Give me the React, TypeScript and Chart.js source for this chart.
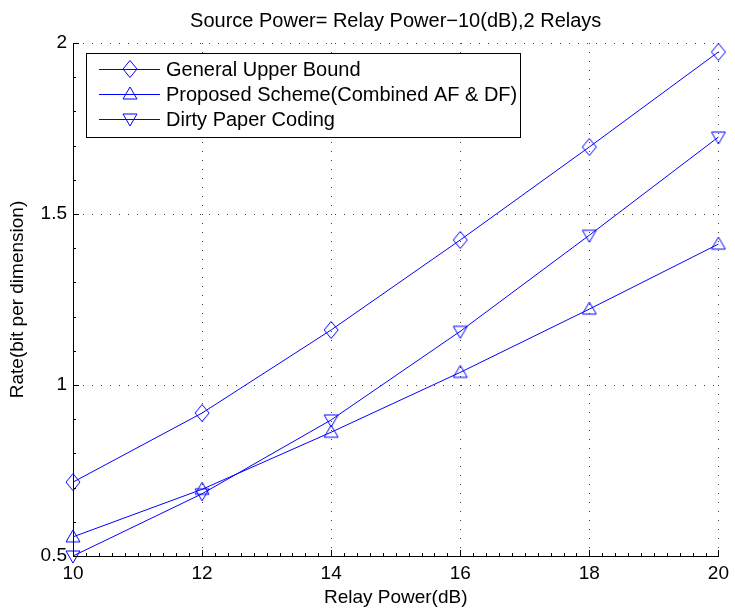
import React, { useEffect, useRef } from "react";
import { Chart, registerables } from "chart.js";

Chart.register(...registerables);

const relayPower = [10, 12, 14, 16, 18, 20];
const upperBound = [0.716, 0.918, 1.161, 1.424, 1.696, 1.974];
const proposed = [0.556, 0.695, 0.862, 1.037, 1.222, 1.412];
const dirtyPaper = [0.5, 0.682, 0.898, 1.157, 1.438, 1.725];
const seriesNames = [
  "General Upper Bound",
  "Proposed Scheme(Combined AF & DF)",
  "Dirty Paper Coding",
];
const xTickValues = [10, 12, 14, 16, 18, 20];
const yTickValues = [0.5, 1, 1.5, 2];
const titleText = "Source Power= Relay Power\u221210(dB),2 Relays";
const xLabel = "Relay Power(dB)";
const yLabel = "Rate(bit per dimension)";

const FONT = "'Liberation Sans', Arial, Helvetica, sans-serif";
const BLUE = "#0000ff";

function makeMarker(kind: "diamond" | "up" | "down"): HTMLCanvasElement {
  const c = document.createElement("canvas");
  const w = 18;
  const h = 20;
  c.width = w;
  c.height = h;
  const g = c.getContext("2d")!;
  g.strokeStyle = BLUE;
  g.lineWidth = 1;
  const cx = w / 2;
  const cy = h / 2;
  g.beginPath();
  if (kind === "diamond") {
    g.moveTo(cx, cy - 8.5);
    g.lineTo(cx + 7, cy);
    g.lineTo(cx, cy + 8.5);
    g.lineTo(cx - 7, cy);
  } else if (kind === "up") {
    g.moveTo(cx, cy - 7);
    g.lineTo(cx + 7, cy + 5);
    g.lineTo(cx - 7, cy + 5);
  } else {
    g.moveTo(cx, cy + 7);
    g.lineTo(cx + 7, cy - 5);
    g.lineTo(cx - 7, cy - 5);
  }
  g.closePath();
  g.stroke();
  return c;
}

export default function App() {
  const ref = useRef<HTMLCanvasElement | null>(null);

  useEffect(() => {
    const canvas = ref.current;
    if (!canvas) return;
    const markers = [makeMarker("diamond"), makeMarker("up"), makeMarker("down")];
    const seriesValues = [upperBound, proposed, dirtyPaper];

    const decor = {
      id: "decor",
      afterDraw(chart: any) {
        const { ctx, chartArea: ca, scales } = chart;
        const xs = scales.x;
        const ys = scales.y;
        ctx.save();
        // inward tick marks
        ctx.strokeStyle = "#000";
        ctx.lineWidth = 1;
        ctx.beginPath();
        for (let i = 0; i <= 50; i++) {
          const v = 10 + i * 0.2;
          const px = Math.round(xs.getPixelForValue(v)) + 0.5;
          const len = i % 10 === 0 ? 6 : 3;
          ctx.moveTo(px, ca.bottom);
          ctx.lineTo(px, ca.bottom - len);
        }
        for (let i = 0; i <= 15; i++) {
          const v = 0.5 + i * 0.1;
          const py = Math.round(ys.getPixelForValue(v)) + 0.5;
          const len = i % 5 === 0 ? 6 : 3;
          ctx.moveTo(ca.left, py);
          ctx.lineTo(ca.left + len, py);
        }
        ctx.stroke();

        // title and axis labels
        ctx.fillStyle = "#000";
        ctx.textAlign = "center";
        ctx.textBaseline = "middle";
        ctx.font = `20px ${FONT}`;
        ctx.fillText(titleText, (ca.left + ca.right) / 2, 21);
        ctx.font = `19px ${FONT}`;
        ctx.fillText(xLabel, (ca.left + ca.right) / 2, 598);
        ctx.save();
        ctx.translate(18, (ca.top + ca.bottom) / 2);
        ctx.rotate(-Math.PI / 2);
        ctx.fillText(yLabel, 0, 0);
        ctx.restore();

        // legend
        const lx = 86.5;
        const ly = 53.5;
        const lw = 434;
        const lh = 84;
        ctx.fillStyle = "#fff";
        ctx.fillRect(lx, ly, lw, lh);
        ctx.strokeStyle = "#000";
        ctx.lineWidth = 1;
        ctx.strokeRect(lx, ly, lw, lh);
        ctx.font = `20px ${FONT}`;
        ctx.textAlign = "left";
        ctx.textBaseline = "middle";
        seriesNames.forEach((name, i) => {
          const yy = 69.5 + i * 25;
          ctx.strokeStyle = BLUE;
          ctx.beginPath();
          ctx.moveTo(99, yy);
          ctx.lineTo(160, yy);
          ctx.stroke();
          const m = markers[i];
          ctx.drawImage(m, 130 - m.width / 2, yy - 0.5 - m.height / 2);
          ctx.fillStyle = "#000";
          ctx.fillText(name, 166, yy + 1);
        });
        ctx.restore();
      },
    };

    const chart = new Chart(canvas, {
      type: "line",
      data: {
        datasets: seriesNames.map((name, i) => ({
          label: name,
          data: relayPower.map((x, j) => ({ x, y: seriesValues[i][j] })),
          borderColor: BLUE,
          backgroundColor: BLUE,
          borderWidth: 1,
          pointStyle: markers[i] as any,
          pointRadius: 8,
          pointHoverRadius: 8,
          fill: false,
          tension: 0,
          clip: false as any,
        })),
      },
      options: {
        animation: false,
        responsive: false,
        devicePixelRatio: 1,
        events: [],
        layout: { padding: { top: 43, right: 11, left: 0, bottom: 0 } },
        plugins: {
          legend: { display: false },
          title: { display: false },
          tooltip: { enabled: false },
        },
        scales: {
          x: {
            type: "linear",
            min: 10,
            max: 20,
            afterBuildTicks: (s: any) => {
              s.ticks = xTickValues.map((v) => ({ value: v }));
            },
            afterFit: (s: any) => {
              s.height = 53;
            },
            ticks: {
              color: "#000",
              font: { family: FONT, size: 19 },
              padding: 6,
              maxRotation: 0,
              autoSkip: false,
              callback: (v: any) => String(v),
            },
            grid: {
              color: "rgba(0,0,0,0.75)",
              lineWidth: 1,
              drawTicks: false,
            },
            border: { display: true, color: "#000", width: 1, dash: [1, 8] },
          },
          y: {
            type: "linear",
            min: 0.5,
            max: 2,
            afterBuildTicks: (s: any) => {
              s.ticks = yTickValues.map((v) => ({ value: v }));
            },
            afterFit: (s: any) => {
              s.width = 73;
            },
            ticks: {
              color: "#000",
              font: { family: FONT, size: 19 },
              padding: 6,
              autoSkip: false,
              callback: (v: any) => String(v),
            },
            grid: {
              color: "rgba(0,0,0,0.75)",
              lineWidth: 1,
              drawTicks: false,
            },
            border: { display: true, color: "#000", width: 1, dash: [1, 8] },
          },
        },
      },
      plugins: [decor],
    });

    return () => chart.destroy();
  }, []);

  return (
    <div style={{ position: "absolute", left: 0, top: 0, width: 735, height: 609, background: "#fff" }}>
      <canvas ref={ref} width={735} height={609} style={{ display: "block" }} />
    </div>
  );
}
